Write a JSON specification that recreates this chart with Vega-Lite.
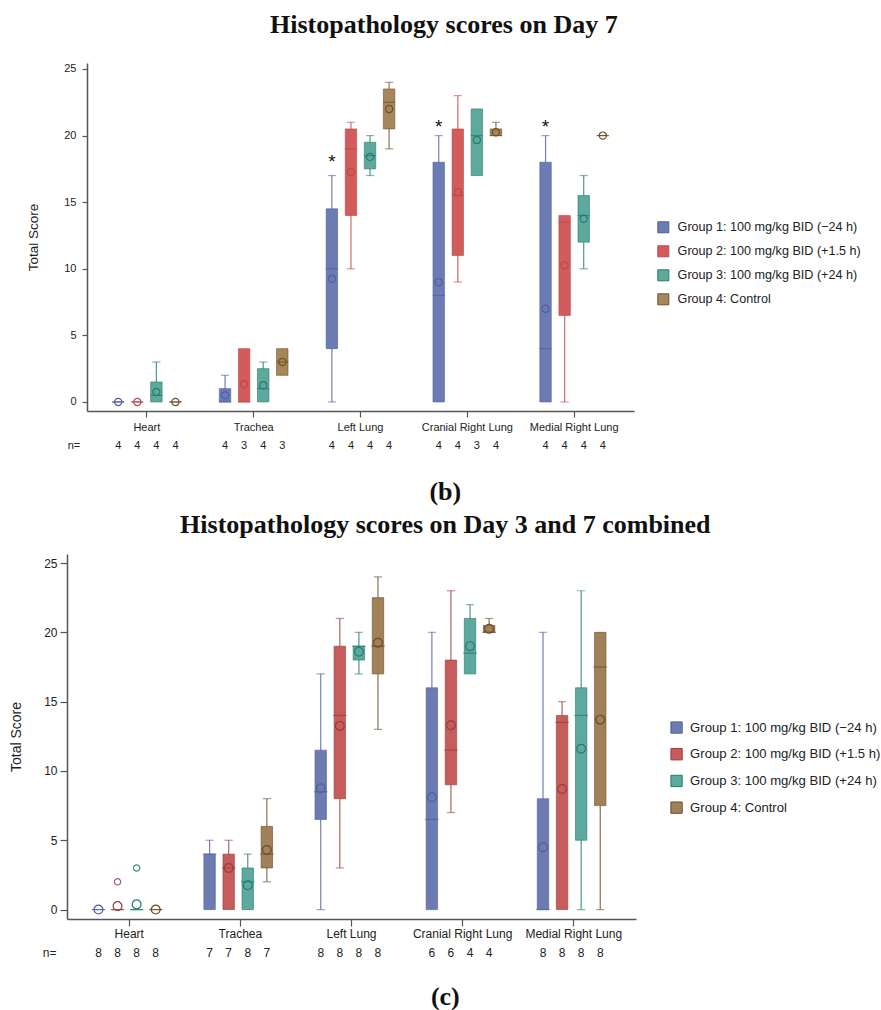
{
  "$schema": "https://vega.github.io/schema/vega-lite/v6.json",
  "padding": {"left": 9, "top": 11, "right": 0, "bottom": 0},
  "background": "white",
  "config": {
    "view": {"stroke": null},
    "axis": {"domainColor": "#555555", "domainWidth": 1.5, "tickColor": "#555555", "tickWidth": 1.2, "labelFont": "Liberation Sans", "labelColor": "#222222", "titleFont": "Liberation Sans", "titleFontWeight": "normal", "titleColor": "#222222", "grid": false},
    "legend": {"labelFont": "Liberation Sans", "labelColor": "#222222"},
    "title": {"font": "Liberation Serif", "fontSize": 26, "fontWeight": "bold", "color": "#111111", "anchor": "middle", "frame": "bounds"}
  },
  "title": {"text": "(c)", "orient": "bottom", "anchor": "middle", "offset": 25},
  "datasets": {
    "day7": [
      {"organ": "Heart", "group": "Group 1: 100 mg/kg BID (−24 h)", "lo": 0, "q1": 0, "med": 0, "q3": 0, "hi": 0, "mean": 0, "n": 4},
      {"organ": "Heart", "group": "Group 2: 100 mg/kg BID (+1.5 h)", "lo": 0, "q1": 0, "med": 0, "q3": 0, "hi": 0, "mean": 0, "n": 4},
      {"organ": "Heart", "group": "Group 3: 100 mg/kg BID (+24 h)", "lo": 0, "q1": 0, "med": 0.5, "q3": 1.5, "hi": 3, "mean": 0.75, "n": 4},
      {"organ": "Heart", "group": "Group 4: Control", "lo": 0, "q1": 0, "med": 0, "q3": 0, "hi": 0, "mean": 0, "n": 4},
      {"organ": "Trachea", "group": "Group 1: 100 mg/kg BID (−24 h)", "lo": 0, "q1": 0, "med": 0, "q3": 1, "hi": 2, "mean": 0.5, "n": 4},
      {"organ": "Trachea", "group": "Group 2: 100 mg/kg BID (+1.5 h)", "lo": 0, "q1": 0, "med": 0, "q3": 4, "hi": 4, "mean": 1.33, "n": 3},
      {"organ": "Trachea", "group": "Group 3: 100 mg/kg BID (+24 h)", "lo": 0, "q1": 0, "med": 1, "q3": 2.5, "hi": 3, "mean": 1.25, "n": 4},
      {"organ": "Trachea", "group": "Group 4: Control", "lo": 2, "q1": 2, "med": 3, "q3": 4, "hi": 4, "mean": 3, "n": 3},
      {"organ": "Left Lung", "group": "Group 1: 100 mg/kg BID (−24 h)", "lo": 0, "q1": 4, "med": 10, "q3": 14.5, "hi": 17, "mean": 9.25, "n": 4, "star": 18.1},
      {"organ": "Left Lung", "group": "Group 2: 100 mg/kg BID (+1.5 h)", "lo": 10, "q1": 14, "med": 19, "q3": 20.5, "hi": 21, "mean": 17.25, "n": 4},
      {"organ": "Left Lung", "group": "Group 3: 100 mg/kg BID (+24 h)", "lo": 17, "q1": 17.5, "med": 18.5, "q3": 19.5, "hi": 20, "mean": 18.4, "n": 4},
      {"organ": "Left Lung", "group": "Group 4: Control", "lo": 19, "q1": 20.5, "med": 22.5, "q3": 23.5, "hi": 24, "mean": 22, "n": 4},
      {"organ": "Cranial Right Lung", "group": "Group 1: 100 mg/kg BID (−24 h)", "lo": 0, "q1": 0, "med": 8, "q3": 18, "hi": 20, "mean": 9, "n": 4, "star": 20.7},
      {"organ": "Cranial Right Lung", "group": "Group 2: 100 mg/kg BID (+1.5 h)", "lo": 9, "q1": 11, "med": 15.5, "q3": 20.5, "hi": 23, "mean": 15.75, "n": 4},
      {"organ": "Cranial Right Lung", "group": "Group 3: 100 mg/kg BID (+24 h)", "lo": 17, "q1": 17, "med": 20, "q3": 22, "hi": 22, "mean": 19.67, "n": 3},
      {"organ": "Cranial Right Lung", "group": "Group 4: Control", "lo": 20, "q1": 20, "med": 20, "q3": 20.5, "hi": 21, "mean": 20.25, "n": 4},
      {"organ": "Medial Right Lung", "group": "Group 1: 100 mg/kg BID (−24 h)", "lo": 0, "q1": 0, "med": 4, "q3": 18, "hi": 20, "mean": 7, "n": 4, "star": 20.7},
      {"organ": "Medial Right Lung", "group": "Group 2: 100 mg/kg BID (+1.5 h)", "lo": 0, "q1": 6.5, "med": 13.5, "q3": 14, "hi": 14, "mean": 10.25, "n": 4},
      {"organ": "Medial Right Lung", "group": "Group 3: 100 mg/kg BID (+24 h)", "lo": 10, "q1": 12, "med": 14, "q3": 15.5, "hi": 17, "mean": 13.75, "n": 4},
      {"organ": "Medial Right Lung", "group": "Group 4: Control", "lo": 20, "q1": 20, "med": 20, "q3": 20, "hi": 20, "mean": 20, "n": 4}
    ],
    "comb": [
      {"organ": "Heart", "group": "Group 1: 100 mg/kg BID (−24 h)", "lo": 0, "q1": 0, "med": 0, "q3": 0, "hi": 0, "mean": 0, "n": 8},
      {"organ": "Heart", "group": "Group 2: 100 mg/kg BID (+1.5 h)", "lo": 0, "q1": 0, "med": 0, "q3": 0, "hi": 0, "mean": 0.25, "n": 8},
      {"organ": "Heart", "group": "Group 3: 100 mg/kg BID (+24 h)", "lo": 0, "q1": 0, "med": 0, "q3": 0, "hi": 0, "mean": 0.375, "n": 8},
      {"organ": "Heart", "group": "Group 4: Control", "lo": 0, "q1": 0, "med": 0, "q3": 0, "hi": 0, "mean": 0, "n": 8},
      {"organ": "Trachea", "group": "Group 1: 100 mg/kg BID (−24 h)", "lo": 0, "q1": 0, "med": 4, "q3": 4, "hi": 5, "mean": null, "n": 7},
      {"organ": "Trachea", "group": "Group 2: 100 mg/kg BID (+1.5 h)", "lo": 0, "q1": 0, "med": 3, "q3": 4, "hi": 5, "mean": 3, "n": 7},
      {"organ": "Trachea", "group": "Group 3: 100 mg/kg BID (+24 h)", "lo": 0, "q1": 0, "med": 2, "q3": 3, "hi": 4, "mean": 1.75, "n": 8},
      {"organ": "Trachea", "group": "Group 4: Control", "lo": 2, "q1": 3, "med": 4, "q3": 6, "hi": 8, "mean": 4.3, "n": 7},
      {"organ": "Left Lung", "group": "Group 1: 100 mg/kg BID (−24 h)", "lo": 0, "q1": 6.5, "med": 8.5, "q3": 11.5, "hi": 17, "mean": 8.75, "n": 8},
      {"organ": "Left Lung", "group": "Group 2: 100 mg/kg BID (+1.5 h)", "lo": 3, "q1": 8, "med": 14, "q3": 19, "hi": 21, "mean": 13.25, "n": 8},
      {"organ": "Left Lung", "group": "Group 3: 100 mg/kg BID (+24 h)", "lo": 17, "q1": 18, "med": 19, "q3": 19, "hi": 20, "mean": 18.6, "n": 8},
      {"organ": "Left Lung", "group": "Group 4: Control", "lo": 13, "q1": 17, "med": 19, "q3": 22.5, "hi": 24, "mean": 19.25, "n": 8},
      {"organ": "Cranial Right Lung", "group": "Group 1: 100 mg/kg BID (−24 h)", "lo": 0, "q1": 0, "med": 6.5, "q3": 16, "hi": 20, "mean": 8.1, "n": 6},
      {"organ": "Cranial Right Lung", "group": "Group 2: 100 mg/kg BID (+1.5 h)", "lo": 7, "q1": 9, "med": 11.5, "q3": 18, "hi": 23, "mean": 13.3, "n": 6},
      {"organ": "Cranial Right Lung", "group": "Group 3: 100 mg/kg BID (+24 h)", "lo": 17, "q1": 17, "med": 18.5, "q3": 21, "hi": 22, "mean": 19, "n": 4},
      {"organ": "Cranial Right Lung", "group": "Group 4: Control", "lo": 20, "q1": 20, "med": 20, "q3": 20.5, "hi": 21, "mean": 20.25, "n": 4},
      {"organ": "Medial Right Lung", "group": "Group 1: 100 mg/kg BID (−24 h)", "lo": 0, "q1": 0, "med": 0, "q3": 8, "hi": 20, "mean": 4.5, "n": 8},
      {"organ": "Medial Right Lung", "group": "Group 2: 100 mg/kg BID (+1.5 h)", "lo": 0, "q1": 0, "med": 13.5, "q3": 14, "hi": 15, "mean": 8.7, "n": 8},
      {"organ": "Medial Right Lung", "group": "Group 3: 100 mg/kg BID (+24 h)", "lo": 0, "q1": 5, "med": 14, "q3": 16, "hi": 23, "mean": 11.6, "n": 8},
      {"organ": "Medial Right Lung", "group": "Group 4: Control", "lo": 0, "q1": 7.5, "med": 17.5, "q3": 20, "hi": 20, "mean": 13.7, "n": 8}
    ],
    "outliers": [
      {"organ": "Heart", "group": "Group 2: 100 mg/kg BID (+1.5 h)", "value": 2},
      {"organ": "Heart", "group": "Group 3: 100 mg/kg BID (+24 h)", "value": 3}
    ],
    "nlabel": [
      {"organ": "Heart", "group": "Group 1: 100 mg/kg BID (−24 h)", "label": "n="}
    ]
  },
  "vconcat": [
    {
      "width": 547,
      "height": 348,
      "title": {"text": "Histopathology scores on Day 7", "offset": 25},
      "data": {"name": "day7"},
      "encoding": {
        "x": {"field": "organ", "type": "nominal", "sort": ["Heart", "Trachea", "Left Lung", "Cranial Right Lung", "Medial Right Lung"], "scale": {"paddingInner": 0, "paddingOuter": 0.06}, "axis": {"title": null, "labelAngle": 0, "labelFontSize": 11, "tickSize": 6, "labelPadding": 4}},
        "xOffset": {"field": "group", "type": "nominal", "sort": ["Group 1: 100 mg/kg BID (−24 h)", "Group 2: 100 mg/kg BID (+1.5 h)", "Group 3: 100 mg/kg BID (+24 h)", "Group 4: Control"], "scale": {"paddingInner": 0.4, "paddingOuter": 1.12}}
      },
      "layer": [
        {
          "mark": {"type": "rule", "strokeWidth": 1.2, "strokeOpacity": 0.8},
          "encoding": {
            "y": {"field": "lo", "type": "quantitative", "title": "Total Score", "scale": {"domain": [-0.68, 25.45], "nice": false, "zero": false},
              "axis": {"values": [0, 5, 10, 15, 20, 25], "labelFontSize": 11, "tickSize": 5, "labelPadding": 6, "titleFontSize": 13.5, "titlePadding": 23}},
            "y2": {"field": "hi"},
            "stroke": {"field": "group", "type": "nominal", "sort": ["Group 1: 100 mg/kg BID (−24 h)", "Group 2: 100 mg/kg BID (+1.5 h)", "Group 3: 100 mg/kg BID (+24 h)", "Group 4: Control"], "scale": {"domain": ["Group 1: 100 mg/kg BID (−24 h)", "Group 2: 100 mg/kg BID (+1.5 h)", "Group 3: 100 mg/kg BID (+24 h)", "Group 4: Control"], "range": ["#4f5f9f", "#b84a4a", "#217d6d", "#6f5129"]},
              "legend": {"title": null, "orient": "none", "legendX": 570, "legendY": 158, "symbolType": "square", "symbolSize": 121, "symbolStrokeWidth": 1, "labelFontSize": 12.6, "labelOffset": 8, "rowPadding": 8, "padding": 0, "labelLimit": 300}}
          }
        },
        {
          "mark": {"type": "bar", "strokeWidth": 1, "strokeOpacity": 0.6},
          "encoding": {
            "y": {"field": "q1", "type": "quantitative"},
            "y2": {"field": "q3"},
            "fill": {"field": "group", "type": "nominal", "sort": ["Group 1: 100 mg/kg BID (−24 h)", "Group 2: 100 mg/kg BID (+1.5 h)", "Group 3: 100 mg/kg BID (+24 h)", "Group 4: Control"], "scale": {"domain": ["Group 1: 100 mg/kg BID (−24 h)", "Group 2: 100 mg/kg BID (+1.5 h)", "Group 3: 100 mg/kg BID (+24 h)", "Group 4: Control"], "range": ["#6b7bb4", "#d35b5b", "#5fa99c", "#a6875a"]},
              "legend": {"title": null, "orient": "none", "legendX": 570, "legendY": 158, "symbolType": "square", "symbolSize": 121, "symbolStrokeWidth": 1, "labelFontSize": 12.6, "labelOffset": 8, "rowPadding": 8, "padding": 0, "labelLimit": 300}},
            "stroke": {"field": "group", "type": "nominal"}
          }
        },
        {
          "mark": {"type": "tick", "size": 11, "thickness": 0.01, "strokeWidth": 1.2, "filled": false},
          "encoding": {"y": {"field": "med", "type": "quantitative"}, "stroke": {"field": "group", "type": "nominal"}}
        },
        {
          "transform": [{"filter": "datum.hi > datum.q3"}],
          "mark": {"type": "tick", "size": 7, "thickness": 0.01, "strokeWidth": 1.2, "filled": false, "strokeOpacity": 0.8},
          "encoding": {"y": {"field": "hi", "type": "quantitative"}, "stroke": {"field": "group", "type": "nominal"}}
        },
        {
          "transform": [{"filter": "datum.lo < datum.q1"}],
          "mark": {"type": "tick", "size": 7, "thickness": 0.01, "strokeWidth": 1.2, "filled": false, "strokeOpacity": 0.8},
          "encoding": {"y": {"field": "lo", "type": "quantitative"}, "stroke": {"field": "group", "type": "nominal"}}
        },
        {
          "mark": {"type": "point", "shape": "circle", "filled": false, "size": 52, "strokeWidth": 1.2, "opacity": 1},
          "encoding": {"y": {"field": "mean", "type": "quantitative"}, "stroke": {"field": "group", "type": "nominal"}}
        },
        {
          "transform": [{"filter": "isValid(datum.star)"}],
          "mark": {"type": "text", "text": "*", "font": "Liberation Sans", "fontSize": 19, "baseline": "middle", "color": "#111111", "dy": 1},
          "encoding": {"y": {"field": "star", "type": "quantitative"}}
        },
        {
          "mark": {"type": "text", "font": "Liberation Sans", "fontSize": 11, "baseline": "middle", "color": "#222222"},
          "encoding": {"y": {"datum": -3.3}, "text": {"field": "n", "type": "quantitative"}}
        },
        {
          "data": {"name": "nlabel"},
          "mark": {"type": "text", "font": "Liberation Sans", "fontSize": 11, "baseline": "middle", "align": "right", "dx": -38, "color": "#222222"},
          "encoding": {"y": {"datum": -3.3}, "text": {"field": "label", "type": "nominal"}}
        }
      ]
    },
    {
      "width": 569,
      "height": 365,
      "title": {"text": ["(b)", "Histopathology scores on Day 3 and 7 combined"], "lineHeight": 33, "offset": 16},
      "data": {"name": "comb"},
      "encoding": {
        "x": {"field": "organ", "type": "nominal", "sort": ["Heart", "Trachea", "Left Lung", "Cranial Right Lung", "Medial Right Lung"], "scale": {"paddingInner": 0, "paddingOuter": 0.06}, "axis": {"title": null, "labelAngle": 0, "labelFontSize": 12, "tickSize": 7, "labelPadding": 2}},
        "xOffset": {"field": "group", "type": "nominal", "sort": ["Group 1: 100 mg/kg BID (−24 h)", "Group 2: 100 mg/kg BID (+1.5 h)", "Group 3: 100 mg/kg BID (+24 h)", "Group 4: Control"], "scale": {"paddingInner": 0.36, "paddingOuter": 1.06}}
      },
      "layer": [
        {
          "mark": {"type": "rule", "strokeWidth": 1.2, "strokeOpacity": 0.8},
          "encoding": {
            "y": {"field": "lo", "type": "quantitative", "title": "Total Score", "scale": {"domain": [-0.68, 25.65], "nice": false, "zero": false},
              "axis": {"values": [0, 5, 10, 15, 20, 25], "labelFontSize": 12, "tickSize": 7, "labelPadding": 3, "titleFontSize": 14, "titlePadding": 20}},
            "y2": {"field": "hi"},
            "stroke": {"field": "group", "type": "nominal", "sort": ["Group 1: 100 mg/kg BID (−24 h)", "Group 2: 100 mg/kg BID (+1.5 h)", "Group 3: 100 mg/kg BID (+24 h)", "Group 4: Control"], "scale": {"domain": ["Group 1: 100 mg/kg BID (−24 h)", "Group 2: 100 mg/kg BID (+1.5 h)", "Group 3: 100 mg/kg BID (+24 h)", "Group 4: Control"], "range": ["#4f5f9f", "#9a3c3c", "#217d6d", "#6a4c26"]},
              "legend": {"title": null, "orient": "none", "legendX": 603, "legendY": 167, "symbolType": "square", "symbolSize": 128, "symbolStrokeWidth": 1, "labelFontSize": 13.1, "labelOffset": 7, "rowPadding": 9.7, "padding": 0, "labelLimit": 300}}
          }
        },
        {
          "mark": {"type": "bar", "strokeWidth": 1, "strokeOpacity": 0.6},
          "encoding": {
            "y": {"field": "q1", "type": "quantitative"},
            "y2": {"field": "q3"},
            "fill": {"field": "group", "type": "nominal", "sort": ["Group 1: 100 mg/kg BID (−24 h)", "Group 2: 100 mg/kg BID (+1.5 h)", "Group 3: 100 mg/kg BID (+24 h)", "Group 4: Control"], "scale": {"domain": ["Group 1: 100 mg/kg BID (−24 h)", "Group 2: 100 mg/kg BID (+1.5 h)", "Group 3: 100 mg/kg BID (+24 h)", "Group 4: Control"], "range": ["#6c7bb0", "#c65c5c", "#5ea89e", "#a18159"]},
              "legend": {"title": null, "orient": "none", "legendX": 603, "legendY": 167, "symbolType": "square", "symbolSize": 128, "symbolStrokeWidth": 1, "labelFontSize": 13.1, "labelOffset": 7, "rowPadding": 9.7, "padding": 0, "labelLimit": 300}},
            "stroke": {"field": "group", "type": "nominal"}
          }
        },
        {
          "mark": {"type": "tick", "size": 12.3, "thickness": 0.01, "strokeWidth": 1.2, "filled": false},
          "encoding": {"y": {"field": "med", "type": "quantitative"}, "stroke": {"field": "group", "type": "nominal"}}
        },
        {
          "transform": [{"filter": "datum.hi > datum.q3"}],
          "mark": {"type": "tick", "size": 7, "thickness": 0.01, "strokeWidth": 1.2, "filled": false, "strokeOpacity": 0.8},
          "encoding": {"y": {"field": "hi", "type": "quantitative"}, "stroke": {"field": "group", "type": "nominal"}}
        },
        {
          "transform": [{"filter": "datum.lo < datum.q1"}],
          "mark": {"type": "tick", "size": 7, "thickness": 0.01, "strokeWidth": 1.2, "filled": false, "strokeOpacity": 0.8},
          "encoding": {"y": {"field": "lo", "type": "quantitative"}, "stroke": {"field": "group", "type": "nominal"}}
        },
        {
          "mark": {"type": "point", "shape": "circle", "filled": false, "size": 78, "strokeWidth": 1.2, "opacity": 1},
          "encoding": {"y": {"field": "mean", "type": "quantitative"}, "stroke": {"field": "group", "type": "nominal"}}
        },
        {
          "data": {"name": "outliers"},
          "mark": {"type": "point", "shape": "circle", "filled": false, "size": 40, "strokeWidth": 1.2, "opacity": 1, "strokeOpacity": 0.85},
          "encoding": {"y": {"field": "value", "type": "quantitative"}, "stroke": {"field": "group", "type": "nominal"}}
        },
        {
          "mark": {"type": "text", "font": "Liberation Sans", "fontSize": 12, "baseline": "middle", "color": "#222222"},
          "encoding": {"y": {"datum": -3.15}, "text": {"field": "n", "type": "quantitative"}}
        },
        {
          "data": {"name": "nlabel"},
          "mark": {"type": "text", "font": "Liberation Sans", "fontSize": 12, "baseline": "middle", "align": "right", "dx": -42, "color": "#222222"},
          "encoding": {"y": {"datum": -3.15}, "text": {"field": "label", "type": "nominal"}}
        }
      ]
    }
  ],
  "spacing": 28,
  "center": true,
  "resolve": {"scale": {"fill": "independent", "stroke": "independent"}, "legend": {"fill": "independent", "stroke": "independent"}}
}
